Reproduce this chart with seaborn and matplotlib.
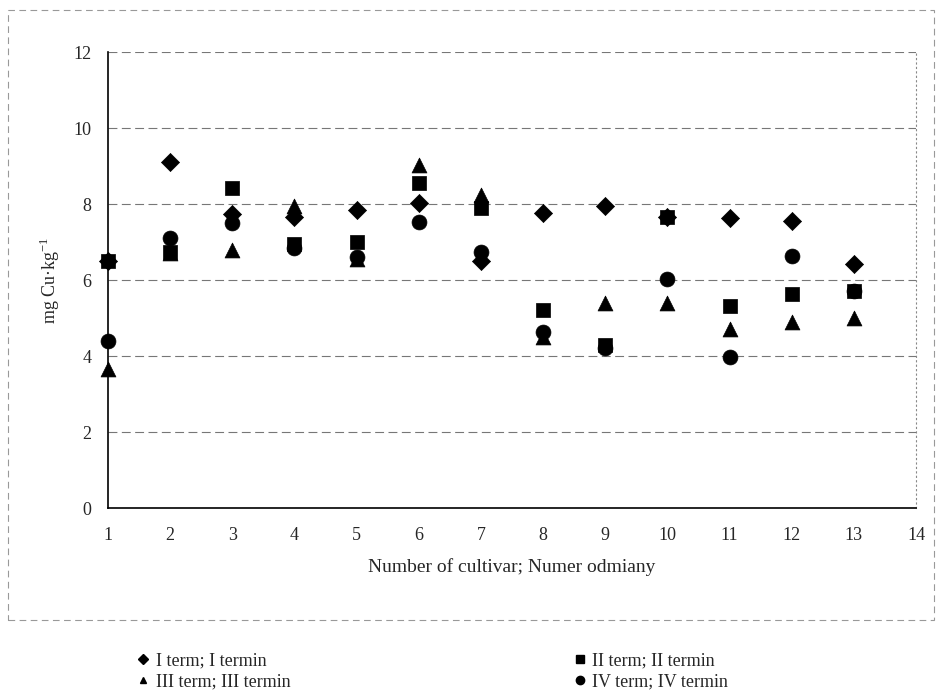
"""Cu content per cultivar, four sampling terms - scatter with seaborn."""
import matplotlib.pyplot as plt
import matplotlib.patches as mpatches
from matplotlib.lines import Line2D
import pandas as pd
import seaborn as sns

cultivar = list(range(1, 14))
term_labels = ["I term; I termin", "II term; II termin",
               "III term; III termin", "IV term; IV termin"]
term_I = [6.5, 9.12, 7.75, 7.65, 7.85, 8.03, 6.5, 7.76, 7.95, 7.65, 7.64, 7.55, 6.42]
term_II = [6.5, 6.75, 8.42, 6.95, 7.0, 8.55, 7.9, 5.21, 4.3, 7.65, 5.32, 5.63, 5.71]
term_III = [3.66, 6.7, 6.8, 7.95, 6.55, 9.03, 8.24, 4.5, 5.4, 5.4, 4.7, 4.9, 5.0]
term_IV = [4.39, 7.1, 7.5, 6.85, 6.6, 7.53, 6.74, 4.63, 4.22, 6.03, 3.98, 6.63, 5.7]

df = pd.DataFrame({"cultivar": cultivar, term_labels[0]: term_I,
    term_labels[1]: term_II, term_labels[2]: term_III, term_labels[3]: term_IV})
df_long = df.melt(id_vars="cultivar", var_name="term", value_name="cu")

markers = dict(zip(term_labels, ["D", "s", "^", "o"]))
sizes_leg = dict(zip(term_labels, [5, 6, 5, 6]))

sns.set_style("white")
plt.rcParams["font.family"] = ["Liberation Serif", "DejaVu Serif"]

fig = plt.figure(figsize=(9.42, 6.95), dpi=100)
ax = fig.add_axes([0.1146, 0.269, 0.8578, 0.656])

# series drawn in order, later terms sit on top (like excel)
for t in term_labels:
    sub = df_long[df_long["term"] == t]
    sns.scatterplot(data=sub, x="cultivar", y="cu", marker=markers[t],
        color="black", s=115 if markers[t] != "D" else 85, edgecolor="black",
        linewidth=0.5, ax=ax, zorder=3, clip_on=False, legend=False)

ax.set_xlim(1, 14)
ax.set_ylim(0, 12)
ax.set_xticks(range(1, 15))
ax.set_yticks(range(0, 13, 2))
ax.tick_params(axis="both", labelsize=13, direction="out", length=4,
    width=0.8, color="black", pad=8)
ax.tick_params(axis="x", pad=10)
ax.yaxis.grid(True, linestyle=(0, (8, 4)), color="#777777", linewidth=0.8)
ax.set_axisbelow(True)
for side in ["left", "bottom"]:
    ax.spines[side].set_color("black")
    ax.spines[side].set_linewidth(1.2)
ax.spines["top"].set_visible(False)
ax.spines["right"].set_color("#888888")
ax.spines["right"].set_linestyle((0, (1, 3)))
ax.spines["right"].set_linewidth(0.8)

ax.set_xlabel("Number of cultivar; Numer odmiany", fontsize=14, labelpad=10)
ax.set_ylabel("mg Cu·kg$^{\\mathregular{-1}}$", fontsize=13, labelpad=8)

# dashed outer frame of the chart area
frame = mpatches.Rectangle((0.009, 0.108), 0.983, 0.878, transform=fig.transFigure,
    fill=False, edgecolor="#999999", linewidth=0.8, linestyle=(0, (6, 4)))
fig.patches.append(frame)

order = [term_labels[0], term_labels[2], term_labels[1], term_labels[3]]
handles = [Line2D([], [], marker=markers[t], color="black", linestyle="none",
    markersize=sizes_leg[t]) for t in order]
fig.legend(handles, order, ncol=2, loc="upper left", bbox_to_anchor=(0.135, 0.072),
    frameon=False, fontsize=13, handletextpad=0.2, columnspacing=15.5,
    labelspacing=0.22, handlelength=1.0, borderaxespad=0)

fig.savefig("out.png", dpi=100)
